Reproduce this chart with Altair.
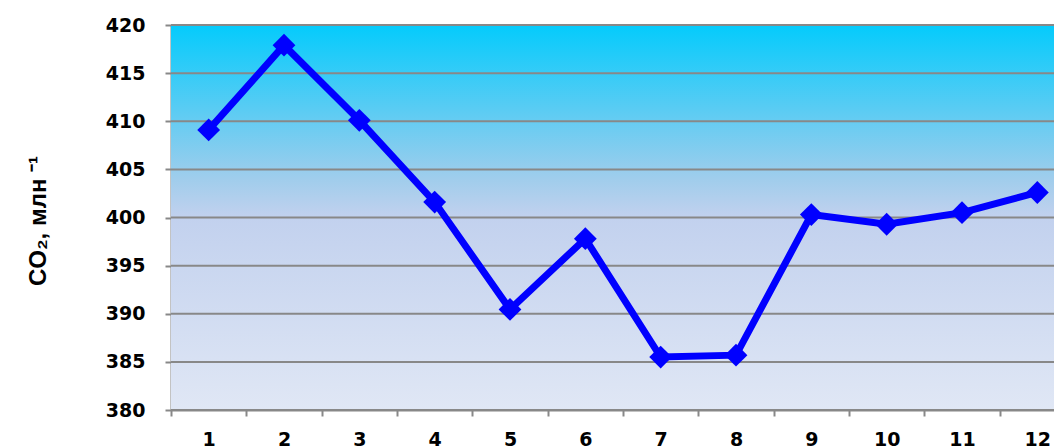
import altair as alt
import pandas as pd

months = [1, 2, 3, 4, 5, 6, 7, 8, 9, 10, 11, 12]
co2 = [409.1, 417.9, 410.1, 401.6, 390.45, 397.8, 385.5, 385.7, 400.3, 399.3, 400.5, 402.6]
y_ticks = [380, 385, 390, 395, 400, 405, 410, 415, 420]

W_FULL, W, H = 904, 883, 385
df = pd.DataFrame({"month": months, "co2": co2})
grid_df = pd.DataFrame({"co2": y_ticks})

gradient = {
    "gradient": "linear",
    "x1": 0, "y1": 0, "x2": 0, "y2": 1,
    "stops": [
        {"offset": 0.0, "color": "#04CBFC"},
        {"offset": 0.25, "color": "#66CCF2"},
        {"offset": 0.4, "color": "#A0CDEC"},
        {"offset": 0.5, "color": "#C2D1EE"},
        {"offset": 1.0, "color": "#E0E7F5"},
    ],
}

bg = alt.Chart(df).mark_rect(fill=gradient, stroke=None).encode(
    x=alt.value(0), x2=alt.value(W_FULL), y=alt.value(0), y2=alt.value(H)
)

x_enc = alt.X(
    "month:O",
    sort=months,
    scale=alt.Scale(paddingInner=0, paddingOuter=0, range=[0, W_FULL]),
    axis=alt.Axis(
        title=None, labelAngle=0, tickBand="extent", grid=False,
        labelFont="DejaVu Sans", labelFontWeight="bold", labelFontSize=19,
        labelColor="#000000", labelPadding=14, tickSize=6, tickWidth=2,
        tickColor="#888888", domainColor="#888888", domainWidth=2,
    ),
)
y_scale = alt.Scale(domain=[380, 420], nice=False, zero=False)
y_axis = alt.Axis(
    values=y_ticks, title="CO₂, млн ⁻¹",
    titleFont="Liberation Sans", titleFontWeight="bold", titleFontSize=24,
    titleAngle=270, titleX=-126, titleY=H / 2 + 3, titleAlign="center",
    titleBaseline="alphabetic", titleColor="#000000",
    labelFont="DejaVu Sans", labelFontWeight="bold", labelFontSize=19,
    labelColor="#000000", labelPadding=20, tickSize=6, tickWidth=2,
    tickColor="#888888", domainColor="#888888", domainWidth=2,
    grid=False,
)
y_enc = alt.Y("co2:Q", scale=y_scale, axis=y_axis)

grid = alt.Chart(grid_df).mark_rule(color="#888888", strokeWidth=2).encode(
    y=y_enc, x=alt.value(0), x2=alt.value(W_FULL),
)

line = alt.Chart(df).mark_line(color="#0000FF", strokeWidth=7).encode(x=x_enc, y=y_enc)
pts = alt.Chart(df).mark_point(
    shape="diamond", filled=True, size=520, color="#0000FF", opacity=1
).encode(x=x_enc, y=y_enc)

chart = alt.layer(bg, grid, line, pts).properties(
    width=W, height=H,
    autosize=alt.AutoSizeParams(type="none"),
    padding={"left": 163, "top": 17, "right": 0, "bottom": 38},
).configure_view(stroke=None)

chart.save("out.html", embed_options={"renderer": "svg", "actions": False})
